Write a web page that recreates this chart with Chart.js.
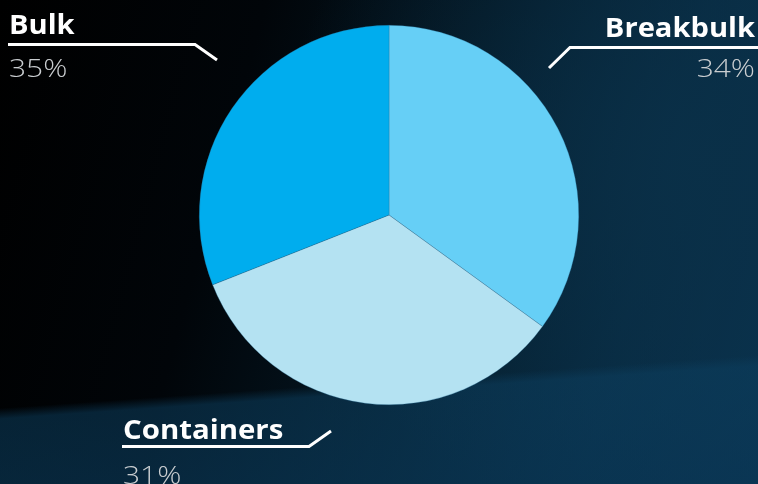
<!DOCTYPE html>
<html>
<head>
<meta charset="utf-8">
<script src="https://cdn.jsdelivr.net/npm/chart.js@4.4.0/dist/chart.umd.min.js"></script>
<style>
  html, body { margin: 0; padding: 0; }
  body {
    width: 758px; height: 484px; overflow: hidden;
    background:
      linear-gradient(176deg, rgba(0,0,0,0) 0%, rgba(0,0,0,0) 76%, rgba(12,62,94,0.55) 78%, rgba(10,55,86,0.7) 100%),
      radial-gradient(ellipse 420px 380px at 700px 160px, rgba(10,48,72,0.9) 0%, rgba(10,48,72,0) 100%),
      linear-gradient(105deg, #000 0%, #010509 30%, #041723 55%, #082b42 80%, #0a3350 100%);
  }
  #wrap { position: relative; width: 758px; height: 484px; }
</style>
</head>
<body>
<div id="wrap"><canvas id="mycanvas" width="758" height="484"></canvas></div>
<script>
// slices as drawn, clockwise from 12 o'clock
var sliceNames = ['Breakbulk', 'Containers', 'Bulk'];
var sliceValues = [35, 34, 31];
var sliceColors = ['#66cff6', '#b4e2f2', '#00adee'];

// callout texts as printed on the picture
var labelNames = ['Bulk', 'Breakbulk', 'Containers'];
var labelPercents = ['35%', '34%', '31%'];

// draws text stretched horizontally (the original font is wider than Open Sans)
function wideText(ctx, txt, x, y, sx, align) {
  var w = ctx.measureText(txt).width * sx;
  var left = align === 'right' ? x - w : x;
  ctx.save();
  ctx.translate(left, y);
  ctx.scale(sx, 1);
  ctx.textAlign = 'left';
  ctx.fillText(txt, 0, 0);
  ctx.restore();
}

var callouts = {
  id: 'callouts',
  afterDraw: function(chart) {
    var ctx = chart.ctx;
    ctx.save();
    ctx.strokeStyle = '#ffffff';
    ctx.lineWidth = 3;
    ctx.lineCap = 'butt';
    ctx.lineJoin = 'miter';

    // Bulk
    ctx.beginPath();
    ctx.moveTo(8, 44.5); ctx.lineTo(195, 44.5); ctx.lineTo(217, 60);
    ctx.stroke();
    // Breakbulk
    ctx.beginPath();
    ctx.moveTo(758, 47.5); ctx.lineTo(570, 47.5); ctx.lineTo(549, 68);
    ctx.stroke();
    // Containers
    ctx.beginPath();
    ctx.moveTo(122, 446.5); ctx.lineTo(309, 446.5); ctx.lineTo(331, 431);
    ctx.stroke();

    ctx.textBaseline = 'alphabetic';
    ctx.fillStyle = '#ffffff';
    ctx.font = 'bold 26px "Open Sans", sans-serif';
    wideText(ctx, labelNames[0], 9, 34, 1.12, 'left');
    wideText(ctx, labelNames[2], 123, 439, 1.13, 'left');
    wideText(ctx, labelNames[1], 755, 37, 1.12, 'right');

    ctx.fillStyle = '#c9cdd0';
    ctx.font = '300 26px "Open Sans", sans-serif';
    wideText(ctx, labelPercents[0], 9, 77, 1.15, 'left');
    wideText(ctx, labelPercents[2], 123, 484, 1.15, 'left');
    wideText(ctx, labelPercents[1], 755, 77, 1.15, 'right');
    ctx.restore();
  }
};

var ctx = document.getElementById('mycanvas');
var pieChart = new Chart(ctx, {
  type: 'pie',
  data: {
    labels: sliceNames,
    datasets: [{
      data: sliceValues,
      backgroundColor: sliceColors,
      borderColor: 'rgba(40,110,150,0.6)',
      borderWidth: 0.5,
      hoverOffset: 0
    }]
  },
  options: {
    responsive: false,
    animation: false,
    layout: { padding: { left: 199, right: 179, top: 25, bottom: 79 } },
    plugins: {
      legend: { display: false },
      tooltip: { enabled: false }
    }
  },
  plugins: [callouts]
});
</script>
</body>
</html>
